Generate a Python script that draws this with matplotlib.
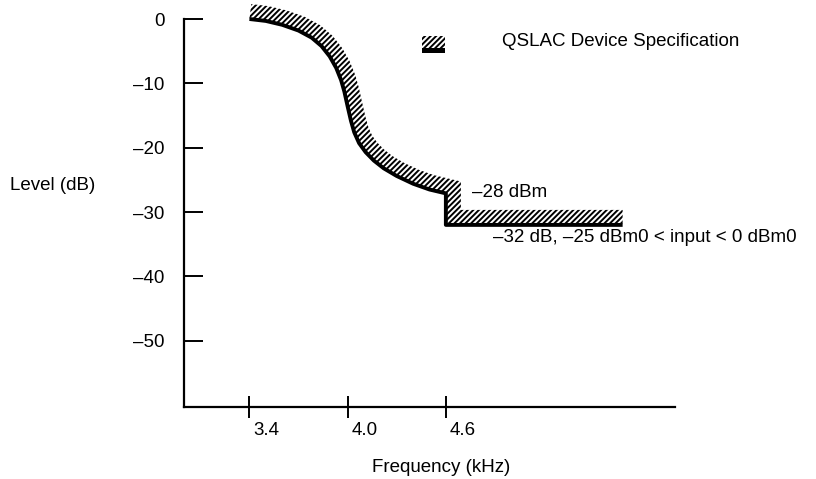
import numpy as np
import matplotlib
matplotlib.use("Agg")
import matplotlib.pyplot as plt
from matplotlib.patches import Polygon, Rectangle
import matplotlib.transforms as mtransforms

# ---------------- data ----------------
freq_khz = [3.40, 3.50, 3.60, 3.70, 3.78, 3.84, 3.89, 3.93, 3.96, 3.98,
            4.00, 4.02, 4.04, 4.07, 4.11, 4.16, 4.22, 4.30, 4.40, 4.50, 4.60]
level_db = [0.0, -0.3, -0.9, -1.8, -2.9, -4.2, -5.8, -7.6, -9.5, -11.3,
            -13.6, -15.8, -17.6, -19.3, -20.7, -22.0, -23.2, -24.4, -25.6, -26.5, -27.1]
step_freq = 4.6
floor_db = -32.0
floor_end_khz = 5.68

x_ticks = [3.4, 4.0, 4.6]
x_tick_labels = ["3.4", "4.0", "4.6"]
y_ticks = [0, -10, -20, -30, -40, -50]
y_tick_labels = ["0", "\u201310", "\u201320", "\u201330", "\u201340", "\u201350"]

legend_label = "QSLAC Device Specification"
note_28 = "\u201328 dBm"
note_32 = "\u201332 dB, \u201325 dBm0 < input < 0 dBm0"
x_label = "Frequency (kHz)"
y_label = "Level (dB)"

# ---------------- figure ----------------
plt.rcParams["font.family"] = ["Liberation Sans", "DejaVu Sans"]
plt.rcParams["hatch.linewidth"] = 1.4
FS = 13.5

fig = plt.figure(figsize=(8.16, 4.79), dpi=100)
ax = fig.add_axes([184 / 816, 1 - 407 / 479, (675 - 184) / 816, (407 - 19) / 479])
ax.set_xlim(3.0, 6.0)
ax.set_ylim(-60.3, 0)

for s in ("top", "right"):
    ax.spines[s].set_visible(False)
for s in ("left", "bottom"):
    ax.spines[s].set_linewidth(1.6)

ax.set_xticks(x_ticks)
ax.set_xticklabels(x_tick_labels, fontsize=FS, ha="left")
ax.set_yticks(y_ticks)
ax.set_yticklabels(y_tick_labels, fontsize=FS)
ax.tick_params(axis="y", direction="in", length=14, width=1.4, pad=14)
ax.tick_params(axis="x", direction="inout", length=16, width=1.4, pad=3)

shift = mtransforms.ScaledTranslation(4 / 100, 0, fig.dpi_scale_trans)
for lab in ax.get_xticklabels():
    lab.set_transform(lab.get_transform() + shift)

# spec line
spec_x = list(freq_khz) + [step_freq, floor_end_khz]
spec_y = list(level_db) + [floor_db, floor_db]


def offset_polyline(xs, ys, width_px):
    pts = ax.transData.transform(np.column_stack([xs, ys]))
    d = np.diff(pts, axis=0)
    d = d / np.linalg.norm(d, axis=1)[:, None]
    n = np.column_stack([-d[:, 1], d[:, 0]])
    off = np.empty_like(pts)
    off[0] = pts[0] + width_px * n[0]
    off[-1] = pts[-1] + width_px * n[-1]
    for i in range(1, len(pts) - 1):
        m = n[i - 1] + n[i]
        off[i] = pts[i] + width_px * m / (1 + np.dot(n[i - 1], n[i]))
    return ax.transData.inverted().transform(off)


off = offset_polyline(spec_x, spec_y, 15)
poly_pts = np.vstack([np.column_stack([spec_x, spec_y]), off[::-1]])
band = Polygon(poly_pts, closed=True, facecolor="white", edgecolor="black",
               linewidth=0, hatch="//////", clip_on=False, zorder=2)
ax.add_patch(band)
ax.plot(spec_x, spec_y, color="black", lw=2.8, clip_on=False,
        solid_joinstyle="round", solid_capstyle="butt", zorder=3)

# annotations
ax.text(4.76, -26.9, note_28, fontsize=FS, ha="left", va="center")
ax.text(4.89, -33.9, note_32, fontsize=FS, ha="left", va="center")

# legend
fig.add_artist(Rectangle((422 / 816, 1 - 48 / 479), 23 / 816, 12 / 479,
                         transform=fig.transFigure, facecolor="white",
                         edgecolor="black", linewidth=0, hatch="//////"))
fig.add_artist(Rectangle((422 / 816, 1 - 53 / 479), 23 / 816, 5 / 479,
                         transform=fig.transFigure, facecolor="black",
                         edgecolor="black", linewidth=0))
fig.text(502 / 816, 1 - 41 / 479, legend_label, fontsize=FS, ha="left", va="center")

# axis labels
fig.text(441 / 816, 1 - 467 / 479, x_label, fontsize=FS, ha="center", va="center")
fig.text(10 / 816, 1 - 185 / 479, y_label, fontsize=FS, ha="left", va="center")

fig.savefig("out.png", dpi=100)
